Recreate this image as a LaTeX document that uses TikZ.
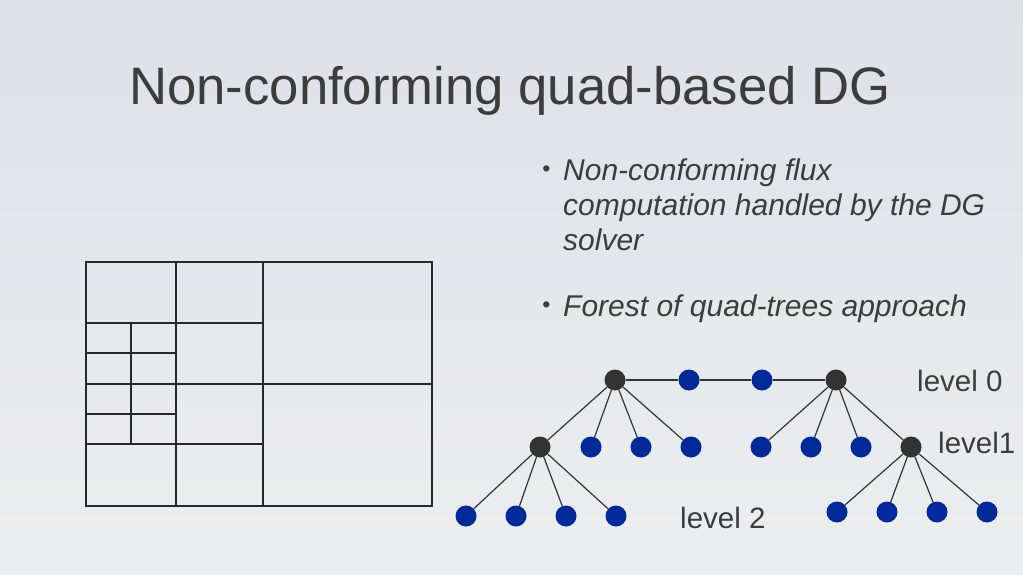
\documentclass[tikz,border=0pt]{standalone}
\usepackage{fontspec}
\setmainfont{Liberation Sans}
\definecolor{txt}{RGB}{60,60,60}
\definecolor{meshc}{RGB}{40,40,40}
\definecolor{darkn}{RGB}{51,51,51}
\definecolor{bluen}{RGB}{0,41,153}
\definecolor{bgtop}{RGB}{221,225,230}
\definecolor{bgbot}{RGB}{236,238,240}
\begin{document}
\begin{tikzpicture}[x=1pt,y=-1pt,
  meshline/.style={draw=meshc,line width=2pt},
  inner/.style={circle,fill=darkn,minimum size=21pt,inner sep=0pt},
  leaf/.style={circle,fill=bluen,minimum size=21pt,inner sep=0pt},
  edge/.style={draw=darkn,line width=1.2pt},
  title/.style={text=txt,inner sep=0pt,font=\fontsize{52.7}{62}\selectfont},
  body/.style={text=txt,inner sep=0pt,anchor=base west,font=\fontsize{30}{36}\selectfont\itshape},
  lvl/.style={text=txt,inner sep=0pt,anchor=base west,font=\fontsize{29.5}{35}\selectfont},
  bul/.style={text=txt,inner sep=0pt,anchor=base,font=\fontsize{23}{23}\selectfont}
]
\useasboundingbox (0,0) rectangle (1023,575);
\shade[top color=bgtop,bottom color=bgbot] (0,0) rectangle (1023,575);

% title
\node[title,anchor=base] (ttl) at (510,105) {Non-conforming quad-based DG};

% bullets
\node[bul] (b1) at (546.5,177) {•};
\node[body] (t1) at (563,180) {Non-conforming flux};
\node[body] (t2) at (563,215) {computation handled by the DG};
\node[body] (t3) at (563,250) {solver};
\node[bul] (b2) at (546.5,312) {•};
\node[body] (t4) at (563,316) {Forest of quad-trees approach};

% mesh
\draw[meshline] (86,262) rectangle (432,506);
\draw[meshline] (176,262) -- (176,506);
\draw[meshline] (263,262) -- (263,506);
\draw[meshline] (131,323) -- (131,444);
\draw[meshline] (86,323) -- (263,323);
\draw[meshline] (86,353) -- (176,353);
\draw[meshline] (86,384) -- (432,384);
\draw[meshline] (86,414) -- (176,414);
\draw[meshline] (86,444) -- (263,444);

% tree nodes
\node[inner] (r1) at (615,380) {};
\node[leaf] (m1) at (689,380) {};
\node[leaf] (m2) at (762,380) {};
\node[inner] (r2) at (836,380) {};

\node[inner] (d1) at (540,447) {};
\node[leaf] (a1) at (591,447) {};
\node[leaf] (a2) at (641,447) {};
\node[leaf] (a3) at (691,447) {};
\node[leaf] (c1) at (761,447) {};
\node[leaf] (c2) at (811,447) {};
\node[leaf] (c3) at (861,447) {};
\node[inner] (d2) at (911,447) {};

\node[leaf] (e1) at (466,516) {};
\node[leaf] (e2) at (516,516) {};
\node[leaf] (e3) at (566,516) {};
\node[leaf] (e4) at (616,516) {};
\node[leaf] (f1) at (837,512) {};
\node[leaf] (f2) at (887,512) {};
\node[leaf] (f3) at (937,512) {};
\node[leaf] (f4) at (987,512) {};

% tree edges
\draw[edge] (r1) -- (m1) -- (m2) -- (r2);
\foreach \n in {d1,a1,a2,a3} \draw[edge] (r1) -- (\n);
\foreach \n in {c1,c2,c3,d2} \draw[edge] (r2) -- (\n);
\foreach \n in {e1,e2,e3,e4} \draw[edge] (d1) -- (\n);
\foreach \n in {f1,f2,f3,f4} \draw[edge] (d2) -- (\n);

% level labels
\node[lvl] (l0) at (917,391.5) {level 0};
\node[lvl] (l1) at (938,453.5) {level1};
\node[lvl] (l2) at (680,528) {level 2};
\end{tikzpicture}
\end{document}
